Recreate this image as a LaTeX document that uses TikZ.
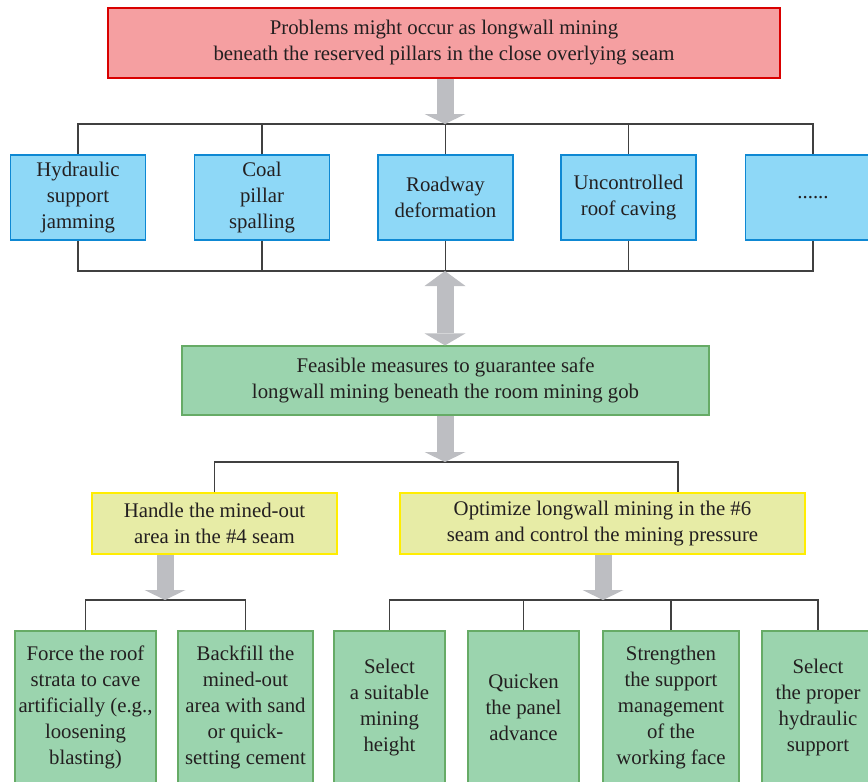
\documentclass[tikz,border=0pt]{standalone}
\usepackage{fontspec}
\setmainfont{Liberation Serif}
\usetikzlibrary{arrows.meta, positioning}
\definecolor{color1}{RGB}{245,159,161}
\definecolor{color2}{RGB}{142,216,247}
\definecolor{color3}{RGB}{155,212,174}
\definecolor{color4}{RGB}{231,236,166}
\definecolor{color5}{RGB}{189,190,194}
\definecolor{textcol}{RGB}{35,31,32}

\begin{document}
\begin{tikzpicture}[x=1pt,y=-1pt,
	box/.style={draw,line width=1.2pt,align=center,text=textcol,inner sep=1pt,
		font=\fontsize{20.8}{26}\selectfont},
	problem/.style={box,fill=color1,draw=red!85!black,minimum width=672pt,minimum height=70pt},
	effect/.style={box,fill=color2,draw=cyan!70!blue,minimum width=135pt,minimum height=85pt},
	measure/.style={box,fill=color3,draw=green!45!black!60,minimum width=527pt,minimum height=69pt},
	way/.style={box,fill=color4,draw=yellow!95!orange,minimum height=61pt},
	method/.style={box,fill=color3,draw=green!45!black!60,minimum height=153pt},
	link/.style={draw=black!75,line width=1.2pt},
	bigarrow/.style={color5,line width=17pt,-{Triangle[width=41pt,length=10pt,line width=0pt]}},
	bigdarrow/.style={color5,line width=17pt,{Triangle[width=41pt,length=15pt,line width=0pt]}-{Triangle[width=41pt,length=12pt,line width=0pt]}}]
	\useasboundingbox (0,0) rectangle (868,782);
	
	\node[problem] (prob) at (444,43) {Problems might occur as longwall mining\\beneath the reserved pillars in the close overlying seam};
	
	\coordinate (bar1) at (445,124);
	\coordinate (bar2) at (445,271);
	\node[effect] (e1) at (78,197.5) {Hydraulic\\support\\jamming};
	\node[effect] (e2) at (262,197.5) {Coal\\pillar\\spalling};
	\node[effect] (e3) at (445.5,197.5) {Roadway\\deformation};
	\node[effect] (e4) at (628.5,197.5) {Uncontrolled\\roof caving};
	\node[effect] (e5) at (813,197.5) {......};
	
	\node[measure] (feas) at (445.5,380.5) {Feasible measures to guarantee safe\\longwall mining beneath the room mining gob};
	
	\coordinate (bar3) at (445,462);
	\node[way,minimum width=245pt] (w1) at (214.5,523.5) {Handle the mined-out\\area in the \#4 seam};
	\node[way,minimum width=405pt] (w2) at (602.5,523.5) {Optimize longwall mining in the \#6\\seam and control the mining pressure};
	
	\coordinate (bar4) at (165,600);
	\coordinate (bar5) at (603,600);
	\node[method,minimum width=141pt] (m1) at (85.5,707.5) {Force the roof\\strata to cave\\artificially (e.g.,\\loosening\\blasting)};
	\node[method,minimum width=135pt] (m2) at (245.5,707.5) {Backfill the\\mined-out\\area with sand\\or quick-\\setting cement};
	\node[method,minimum width=111pt] (m3) at (389.5,707.5) {Select\\a suitable\\mining\\height};
	\node[method,minimum width=111pt] (m4) at (523.5,707.5) {Quicken\\the panel\\advance};
	\node[method,minimum width=136pt] (m5) at (671,707.5) {Strengthen\\the support\\management\\of the\\working face};
	\node[method,minimum width=112pt] (m6) at (818,707.5) {Select\\the proper\\hydraulic\\support};
	
	% connectors
	\draw[link] (e1.north) -- (e1.north |- bar1) -- (e5.north |- bar1) -- (e5.north);
	\draw[link] (e1.south) -- (e1.south |- bar2) -- (e5.south |- bar2) -- (e5.south);
	\foreach \i in {2,3,4}{
		\draw[link] (e\i.north) -- (e\i.north |- bar1);
		\draw[link] (e\i.south) -- (e\i.south |- bar2);
	}
	\draw[link] (w1.north) -- (w1.north |- bar3) -- ([xshift=75.5pt]w2.north |- bar3) -- ([xshift=75.5pt]w2.north);
	\draw[link] (m1.north) -- (m1.north |- bar4) -- (m2.north |- bar4) -- (m2.north);
	\draw[link] (m3.north) -- (m3.north |- bar5) -- (m6.north |- bar5) -- (m6.north);
	\foreach \i in {4,5}
		\draw[link] (m\i.north) -- (m\i.north |- bar5);
	
	% arrows
	\draw[bigarrow] (prob.south -| bar1) -- (bar1);
	\draw[bigdarrow] (bar2) -- (feas.north -| bar2);
	\draw[bigarrow] (feas.south -| bar3) -- (bar3);
	\draw[bigarrow] (w1.south -| bar4) -- (bar4);
	\draw[bigarrow] (w2.south -| bar5) -- (bar5);
\end{tikzpicture}
\end{document}
